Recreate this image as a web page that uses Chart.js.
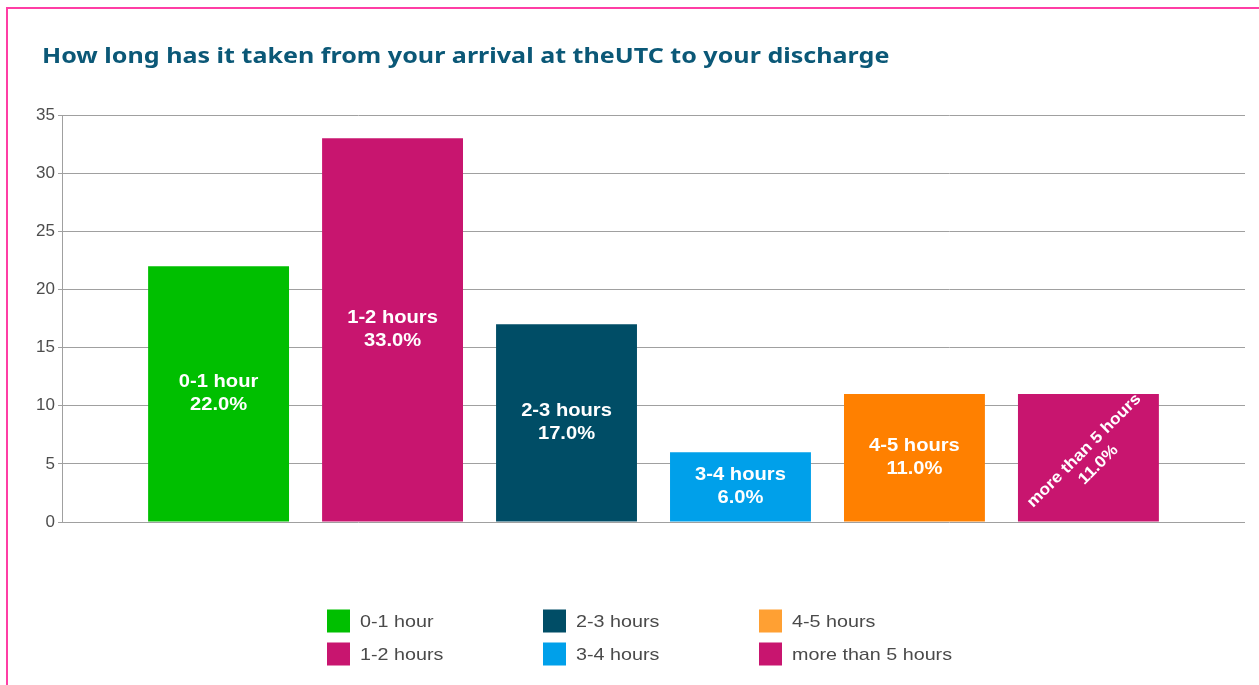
<!DOCTYPE html>
<html>
<head>
<meta charset="utf-8">
<script src="https://cdn.jsdelivr.net/npm/chart.js@4.4.1/dist/chart.umd.min.js"></script>
<style>
html, body { margin: 0; padding: 0; background: #fff; }
#wrap { position: relative; width: 1259px; height: 685px; overflow: hidden; }
#frame { position: absolute; left: 6px; top: 7px; width: 1300px; height: 700px;
  border-left: 2px solid #ff3ea5; border-top: 2px solid #ff3ea5; pointer-events: none; }
canvas { position: absolute; left: 0; top: 0; }
</style>
</head>
<body>
<div id="wrap">
  <canvas id="chart" width="1259" height="685"></canvas>
  <div id="frame"></div>
</div>
<script>
// Données du graphique
const titleText = 'How long has it taken from your arrival at theUTC to your discharge';
const categories = ['0-1 hour', '1-2 hours', '2-3 hours', '3-4 hours', '4-5 hours', 'more than 5 hours'];
const values = [22, 33, 17, 6, 11, 11];
const barColors = ['#00bf00', '#c8156f', '#004d66', '#00a0ea', '#ff8000', '#c8156f'];
const legendColors = ['#00bf00', '#c8156f', '#004d66', '#00a0ea', '#ffa033', '#c8156f'];
const yMax = 35;
const yStep = 5;

const total = values.reduce((a, b) => a + b, 0);
const ctx = document.getElementById('chart').getContext('2d');

// Le texte de l'original est un peu étiré horizontalement
function stretchedText(c, text, x, y, sx) {
    c.save();
    c.translate(x, y);
    c.scale(sx, 1);
    c.fillText(text, 0, 0);
    c.restore();
}

// Titre en haut à gauche
const leftTitle = {
    id: 'leftTitle',
    afterDraw(chart) {
        const c = chart.ctx;
        c.save();
        c.fillStyle = '#0b5877';
        c.font = 'bold 22px "Noto Sans", "DejaVu Sans", sans-serif';
        c.textAlign = 'left';
        c.textBaseline = 'middle';
        stretchedText(c, titleText, 42, 57, 1.14);
        c.restore();
    }
};

// Étiquettes blanches dans les barres
const barLabels = {
    id: 'barLabels',
    afterDatasetsDraw(chart) {
        const c = chart.ctx;
        const meta = chart.getDatasetMeta(0);
        meta.data.forEach((bar, i) => {
            const lines = [categories[i], (values[i] / total * 100).toFixed(1) + '%'];
            const cx = bar.x;
            const cy = (bar.y + bar.base) / 2;
            c.save();
            c.fillStyle = '#ffffff';
            c.textAlign = 'center';
            c.textBaseline = 'middle';
            c.font = 'bold 18px "Liberation Sans", Arial, sans-serif';
            const w = Math.max(...lines.map(l => c.measureText(l).width)) * 1.12;
            c.translate(cx, cy);
            if (w > bar.width - 10) {
                c.font = 'bold 16px "Liberation Sans", Arial, sans-serif';
                c.rotate(-Math.PI / 4);
                lines.forEach((l, k) => {
                    stretchedText(c, l, 2, (k - 0.5) * 20 + 2, 1.1);
                });
            } else {
                lines.forEach((l, k) => {
                    stretchedText(c, l, 0, (k - 0.5) * 23, 1.12);
                });
            }
            c.restore();
        });
    }
};

// Légende sur trois colonnes (ordre par colonne)
const columnLegend = {
    id: 'columnLegend',
    afterDraw(chart) {
        const c = chart.ctx;
        const startX = 327, colW = 216, rowY = 621, rowH = 33, box = 23;
        c.save();
        c.font = '17px "Liberation Sans", Arial, sans-serif';
        c.textBaseline = 'middle';
        c.textAlign = 'left';
        categories.forEach((name, i) => {
            const col = Math.floor(i / 2);
            const row = i % 2;
            const x = startX + col * colW;
            const y = rowY + row * rowH;
            c.fillStyle = legendColors[i];
            c.fillRect(x, y - box / 2, box, box);
            c.fillStyle = '#4a4a4a';
            stretchedText(c, name, x + box + 10, y + 1, 1.16);
        });
        c.restore();
    }
};

const chart = new Chart(ctx, {
    type: 'bar',
    data: {
        datasets: [{
            data: values.map((v, i) => ({ x: i, y: v })),
            backgroundColor: barColors,
            borderWidth: 0,
            categoryPercentage: 1.0,
            barPercentage: 0.9
        }]
    },
    options: {
        responsive: false,
        animation: false,
        layout: { padding: { left: 28, right: 14, top: 115, bottom: 163 } },
        scales: {
            x: {
                type: 'linear',
                min: -0.9,
                max: 5.9,
                offset: false,
                display: false
            },
            y: {
                min: 0,
                max: yMax,
                ticks: {
                    stepSize: yStep,
                    color: '#4d4d4d',
                    padding: 3,
                    font: { family: '"Liberation Sans", Arial, sans-serif', size: 17 }
                },
                grid: { color: '#a0a0a0', lineWidth: 1, tickLength: 4 },
                border: { color: '#a0a0a0' },
                afterFit(scale) { scale.width = 34; }
            }
        },
        plugins: {
            legend: { display: false },
            tooltip: { enabled: false },
            title: { display: false }
        }
    },
    plugins: [barLabels, columnLegend, leftTitle]
});
</script>
</body>
</html>
